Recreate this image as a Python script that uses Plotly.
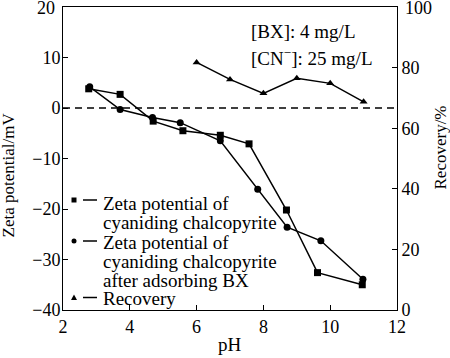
import plotly.graph_objects as go

ph_sq = [2.77, 3.71, 4.7, 5.59, 6.71, 7.57, 8.69, 9.62, 10.96]
zeta_sq = [3.8, 2.7, -2.6, -4.5, -5.4, -7.1, -20.2, -32.6, -35.0]

ph_ci = [2.8, 3.71, 4.68, 5.51, 6.71, 7.83, 8.71, 9.72, 10.98]
zeta_ci = [4.2, -0.3, -1.9, -2.9, -6.5, -16.1, -23.6, -26.3, -33.9]

ph_tr = [6.0, 7.0, 8.0, 9.0, 10.0, 11.0]
recovery = [81.7, 76.1, 71.5, 76.5, 74.8, 68.7]

zeta_ticks = [-40, -30, -20, -10, 0, 10]
zeta_top = 20
rec_ticks = [0, 20, 40, 60, 80]
rec_top = 100
ph_ticks = [2, 4, 6, 8, 10, 12]

legend_lines = [
    "Zeta potential of", "cyaniding chalcopyrite",
    "Zeta potential of", "cyaniding chalcopyrite", "after adsorbing BX",
    "Recovery",
]

FONT = "Liberation Serif"
W, H = 450, 358
L, R, T, B = 63, 53, 7, 48
PW, PH = W - L - R, H - T - B


def px(x):
    return (x - L) / PW


def py(y):
    return (H - B - y) / PH


fig = go.Figure()
fig.add_trace(go.Scatter(x=ph_sq, y=zeta_sq, mode="lines+markers",
                         name=legend_lines[0] + " " + legend_lines[1],
                         line=dict(color="black", width=1.5),
                         marker=dict(symbol="square", size=7, color="black")))
fig.add_trace(go.Scatter(x=ph_ci, y=zeta_ci, mode="lines+markers",
                         name=" ".join(legend_lines[2:5]),
                         line=dict(color="black", width=1.5),
                         marker=dict(symbol="circle", size=7, color="black")))
fig.add_trace(go.Scatter(x=ph_tr, y=recovery, mode="lines+markers", yaxis="y2",
                         name=legend_lines[5],
                         line=dict(color="black", width=1.5),
                         marker=dict(symbol="triangle-up", size=7, color="black")))

# zero reference line
fig.add_shape(type="line", xref="paper", yref="y", x0=0, x1=1, y0=0, y1=0,
              line=dict(color="black", width=1.3, dash="7px,5px"))

# top tick labels (plotly hides them because they overflow the top edge)
fig.add_annotation(x=0, y=zeta_top, xref="paper", yref="y", xanchor="right", yanchor="middle",
                   xshift=-6, yshift=-1, text=str(zeta_top), showarrow=False,
                   font=dict(family=FONT, size=18, color="black"))
fig.add_annotation(x=1, y=rec_top, xref="paper", yref="y2", xanchor="left", yanchor="middle",
                   xshift=6, yshift=-1, text=str(rec_top), showarrow=False,
                   font=dict(family=FONT, size=18, color="black"))

# condition text
fig.add_annotation(x=px(249), y=py(31.7), xref="paper", yref="paper", xanchor="left", yanchor="middle",
                   text="[BX]: 4 mg/L", showarrow=False, font=dict(family=FONT, size=19, color="black"))
fig.add_annotation(x=px(249), y=py(56.7), xref="paper", yref="paper", xanchor="left", yanchor="middle",
                   text="[CN<sup>−</sup>]: 25 mg/L", showarrow=False, font=dict(family=FONT, size=19, color="black"))

# legend (manual, to match tight line spacing)
line_y = [203, 222.5, 242.5, 261.5, 280, 298.5]
for txt, yy in zip(legend_lines, line_y):
    fig.add_annotation(x=px(101), y=py(yy), xref="paper", yref="paper", xanchor="left", yanchor="middle",
                       text=txt, showarrow=False, font=dict(family=FONT, size=19, color="black"))

key_y = [200, 241, 297.5]
for i, yy in enumerate(key_y):
    fig.add_shape(type="line", xref="paper", yref="paper", x0=px(83), x1=px(97), y0=py(yy), y1=py(yy),
                  line=dict(color="black", width=1.5))
s = 2.5
fig.add_shape(type="rect", xref="paper", yref="paper", x0=px(74 - s), x1=px(74 + s),
              y0=py(key_y[0] - s), y1=py(key_y[0] + s), fillcolor="black", line=dict(width=0))
fig.add_shape(type="circle", xref="paper", yref="paper", x0=px(74 - s), x1=px(74 + s),
              y0=py(key_y[1] - s), y1=py(key_y[1] + s), fillcolor="black", line=dict(width=0))
ty = key_y[2]
fig.add_shape(type="path", xref="paper", yref="paper",
              path=f"M {px(71)},{py(ty + 2.5)} L {px(77)},{py(ty + 2.5)} L {px(74)},{py(ty - 3)} Z",
              fillcolor="black", line=dict(width=0))

# axis titles
fig.add_annotation(x=px(8), y=py(175.5), xref="paper", yref="paper", xanchor="center", yanchor="middle",
                   text="Zeta potential/mV", textangle=-90, showarrow=False,
                   font=dict(family=FONT, size=17, color="black"))
fig.add_annotation(x=px(440), y=py(147.5), xref="paper", yref="paper", xanchor="center", yanchor="middle",
                   text="Recovery/%", textangle=-90, showarrow=False,
                   font=dict(family=FONT, size=17, color="black"))
fig.add_annotation(x=px(230), y=py(344), xref="paper", yref="paper", xanchor="center", yanchor="middle",
                   text="pH", showarrow=False, font=dict(family=FONT, size=19, color="black"))

axis_common = dict(showline=True, linecolor="black", linewidth=1, ticks="inside",
                   ticklen=5, tickcolor="black", showgrid=False, zeroline=False,
                   tickfont=dict(family=FONT, size=18, color="black"))

fig.update_layout(
    width=W, height=H,
    margin=dict(l=L, r=R, t=T, b=B),
    paper_bgcolor="white", plot_bgcolor="white",
    font=dict(family=FONT, size=18, color="black"),
    showlegend=False,
    xaxis=dict(range=[2, 12], tickvals=ph_ticks, mirror=True, **axis_common),
    yaxis=dict(range=[-40, 20], tickvals=zeta_ticks, ticklabelstandoff=-2, **axis_common),
    yaxis2=dict(range=[0, 100], tickvals=rec_ticks, overlaying="y", side="right", **axis_common),
)

fig.write_html("out.html", config={"displayModeBar": False},
               post_script="document.body.style.margin='0';document.body.style.padding='0';")
